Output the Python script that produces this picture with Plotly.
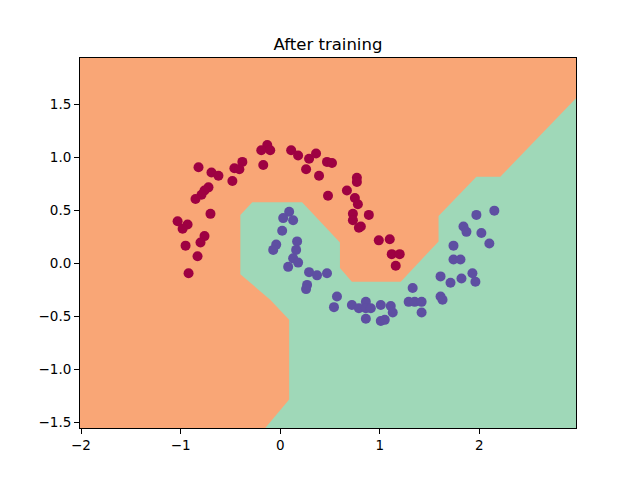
import plotly.graph_objects as go

# class 0 (red moon)
red_x = [-0.13, -0.19, -0.10, -0.17, -0.38, -0.46, -0.41, -0.82, -0.69, -0.62, -0.48, -0.72,
         -0.76, -0.79, -0.85, -0.70, -1.03, -0.93, -0.98, -0.76, -0.80, -0.95, -0.83, -0.92,
         0.11, 0.18, 0.29, 0.36, 0.26, 0.47, 0.52, 0.39, 0.77, 0.77, 0.48, 0.67,
         0.75, 0.78, 0.73, 0.73, 0.89, 0.81, 0.79, 0.99, 1.10, 1.12, 1.20, 1.16]
red_y = [1.12, 1.07, 1.07, 0.93, 0.96, 0.90, 0.89, 0.91, 0.86, 0.83, 0.78, 0.72,
         0.69, 0.65, 0.61, 0.47, 0.40, 0.37, 0.33, 0.26, 0.20, 0.17, 0.07, -0.09,
         1.07, 1.02, 0.99, 1.04, 0.89, 0.96, 0.95, 0.83, 0.81, 0.77, 0.64, 0.69,
         0.62, 0.56, 0.47, 0.41, 0.46, 0.35, 0.34, 0.22, 0.23, 0.09, 0.09, -0.02]

# class 1 (purple moon)
purple_x = [0.09, 0.03, 0.02, -0.04, -0.07, 0.08, 0.13, 0.17, 0.16, 0.13, 0.18, 0.29,
            0.37, 0.47, 0.27, 0.26, 0.57, 0.54, 0.72, 0.79, 0.86, 0.86, 0.91, 1.01,
            1.11, 1.13, 0.86, 1.01, 1.05, 1.33, 1.29, 1.35, 1.42, 1.42, 1.61, 1.61,
            1.63, 1.97, 2.15, 1.84, 1.87, 2.02, 2.10, 1.74, 1.74, 1.81, 1.71, 1.82,
            1.93, 1.96]
purple_y = [0.49, 0.43, 0.31, 0.18, 0.13, -0.03, 0.41, 0.21, 0.13, 0.05, 0.01, -0.08,
            -0.11, -0.09, -0.20, -0.24, -0.31, -0.41, -0.39, -0.42, -0.36, -0.42, -0.42, -0.39,
            -0.40, -0.46, -0.52, -0.54, -0.53, -0.23, -0.36, -0.36, -0.36, -0.46, -0.12, -0.31,
            -0.34, 0.46, 0.50, 0.35, 0.30, 0.29, 0.19, 0.17, 0.04, 0.04, -0.18, -0.14,
            -0.09, -0.17]

# decision region predicted as class 1 (rest of the plane is class 0)
region_x = [-0.15, 0.09, 0.09, -0.10, -0.40, -0.40, -0.28, 0.22, 0.60, 0.60, 0.72, 1.21,
            1.59, 1.59, 1.97, 2.21, 2.97, 2.97]
region_y = [-1.55, -1.28, -0.53, -0.34, -0.10, 0.46, 0.58, 0.58, 0.20, -0.04, -0.17, -0.17,
            0.21, 0.45, 0.82, 0.82, 1.56, -1.55]

x_ticks = [-2, -1, 0, 1, 2]
y_ticks = [-1.5, -1.0, -0.5, 0.0, 0.5, 1.0, 1.5]

fig = go.Figure()
fig.add_trace(go.Scatter(x=region_x, y=region_y, mode="lines", fill="toself",
                         fillcolor="#9fd8b8", line=dict(width=0, color="#9fd8b8"),
                         hoverinfo="skip"))
fig.add_trace(go.Scatter(x=red_x, y=red_y, mode="markers",
                         marker=dict(color="#9e0142", size=10, line=dict(width=0))))
fig.add_trace(go.Scatter(x=purple_x, y=purple_y, mode="markers",
                         marker=dict(color="#5e4fa2", size=10, line=dict(width=0))))

axis_style = dict(showgrid=False, zeroline=False, showline=True, linecolor="black",
                  linewidth=1, mirror=True, ticks="outside", ticklen=5, tickcolor="black",
                  tickfont=dict(family="DejaVu Sans", size=13.5, color="black"))

fig.update_xaxes(range=[-2.01, 2.97], tickvals=x_ticks, **axis_style)
fig.update_yaxes(range=[-1.55, 1.94], tickvals=y_ticks, tickformat=".1f", **axis_style)

# the page puts the figure ~8px in from the top-left, margins allow for that
fig.update_layout(
    width=640, height=480,
    margin=dict(l=72, r=72, t=50, b=60),
    paper_bgcolor="white",
    plot_bgcolor="#f9a676",
    showlegend=False,
    title=dict(text="After training", x=0.5, xref="paper", xanchor="center",
               y=1 - 36 / 480, yref="container", yanchor="middle",
               font=dict(family="DejaVu Sans", size=16.5, color="black")),
)

fig.write_html("out.html")
